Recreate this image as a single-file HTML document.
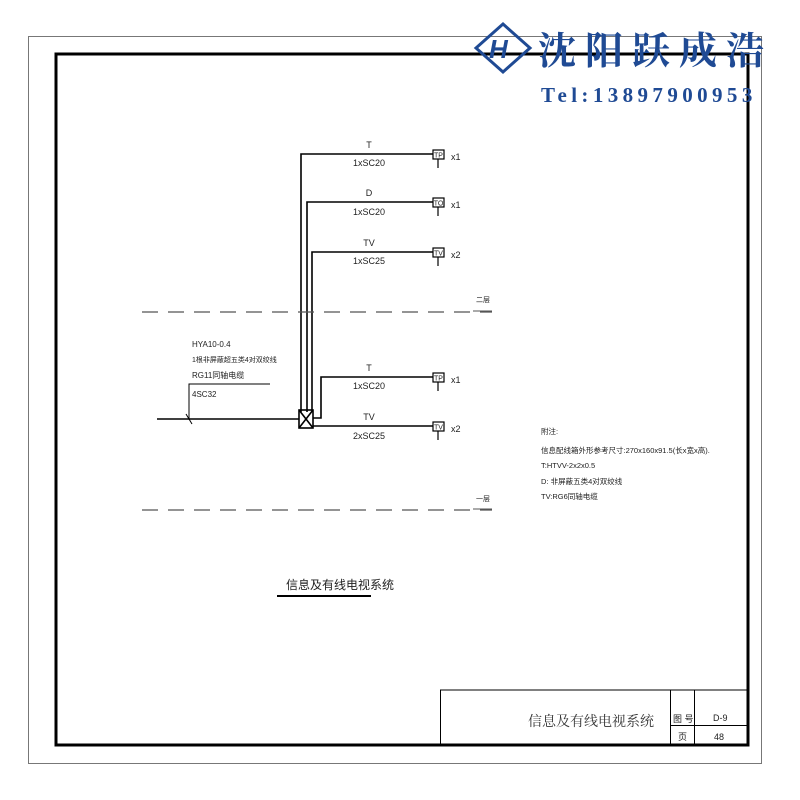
<!DOCTYPE html>
<html><head><meta charset="utf-8"><style>
html,body{margin:0;padding:0;background:#fff;width:800px;height:800px;overflow:hidden}
svg text{font-family:"Liberation Sans","Noto Sans CJK SC",sans-serif}
</style></head><body>
<svg width="800" height="800" viewBox="0 0 800 800" xmlns="http://www.w3.org/2000/svg">
<rect x="28.5" y="36.5" width="733" height="727" fill="none" stroke="#777" stroke-width="1"/>
<rect x="56" y="54" width="692" height="691" fill="none" stroke="#000" stroke-width="3"/>

<g stroke="#000" stroke-width="1.6" fill="none">
<polyline points="301,412 301,154 433,154"/>
<polyline points="307,412 307,202 433,202"/>
<polyline points="312,412 312,252 433,252"/>
<polyline points="313,418 321,418 321,377 433,377"/>
<polyline points="313,426 433,426"/>
<line x1="157" y1="419" x2="299" y2="419"/>
<polyline points="189,419 189,384 270,384" stroke-width="1"/>
<line x1="186" y1="414" x2="192" y2="424" stroke-width="1"/>
<rect x="299" y="410" width="14" height="18"/>
<line x1="299" y1="410" x2="313" y2="428"/>
<line x1="313" y1="410" x2="299" y2="428"/>
</g>
<g stroke="#555" stroke-width="1.3" stroke-dasharray="16,10">
<line x1="142" y1="312" x2="492" y2="312"/>
<line x1="142" y1="510" x2="492" y2="510"/>
</g>
<line x1="473" y1="311" x2="492" y2="311" stroke="#555" stroke-width="1"/>
<line x1="473" y1="509" x2="492" y2="509" stroke="#555" stroke-width="1"/>

<g stroke="#000" stroke-width="1.2" fill="#fff">
<rect x="433" y="150" width="11" height="9"/><line x1="438" y1="159" x2="438" y2="168"/>
<rect x="433" y="198" width="11" height="9"/><line x1="438" y1="207" x2="438" y2="216"/>
<rect x="433" y="248" width="11" height="9"/><line x1="438" y1="257" x2="438" y2="266"/>
<rect x="433" y="373" width="11" height="9"/><line x1="438" y1="382" x2="438" y2="391"/>
<rect x="433" y="422" width="11" height="9"/><line x1="438" y1="431" x2="438" y2="440"/>
</g>
<g font-size="7" text-anchor="middle" fill="#222">
<text x="438.5" y="157.5">TP</text><text x="438.5" y="205.5">TO</text><text x="438.5" y="255.5">TV</text>
<text x="438.5" y="380.5">TP</text><text x="438.5" y="429.5">TV</text>
</g>
<g font-size="9" fill="#222">
<text x="451" y="160">x1</text><text x="451" y="208">x1</text><text x="451" y="258">x2</text>
<text x="451" y="383">x1</text><text x="451" y="432">x2</text>
</g>
<g font-size="9" text-anchor="middle" fill="#222">
<text x="369" y="148">T</text><text x="369" y="166">1xSC20</text>
<text x="369" y="196">D</text><text x="369" y="215">1xSC20</text>
<text x="369" y="246">TV</text><text x="369" y="264">1xSC25</text>
<text x="369" y="371">T</text><text x="369" y="389">1xSC20</text>
<text x="369" y="420">TV</text><text x="369" y="439">2xSC25</text>
</g>
<g font-size="8" fill="#222">
<text x="192" y="347">HYA10-0.4</text>
<text x="192" y="362" font-size="7">1根非屏蔽超五类4对双绞线</text>
<text x="192" y="378">RG11同轴电缆</text>
<text x="192" y="397">4SC32</text>
<text x="476" y="302" font-size="7">二层</text>
<text x="476" y="501" font-size="7">一层</text>
</g>
<g font-size="7.5" fill="#222">
<text x="541" y="434">附注:</text>
<text x="541" y="453">信息配线箱外形参考尺寸:270x160x91.5(长x宽x高).</text>
<text x="541" y="468">T:HTVV-2x2x0.5</text>
<text x="541" y="484">D: 非屏蔽五类4对双绞线</text>
<text x="541" y="499">TV:RG6同轴电缆</text>
</g>
<text x="286" y="589" font-size="12" fill="#222">信息及有线电视系统</text>
<line x1="277" y1="596" x2="371" y2="596" stroke="#000" stroke-width="2"/>

<g stroke="#000" stroke-width="1" fill="none">
<line x1="440" y1="690" x2="748" y2="690"/>
<line x1="440.5" y1="690" x2="440.5" y2="745"/>
<line x1="670.5" y1="690" x2="670.5" y2="745"/>
<line x1="694.5" y1="690" x2="694.5" y2="745"/>
<line x1="670" y1="725.5" x2="748" y2="725.5"/>
</g>
<text x="528" y="726" font-size="14" fill="#333" style="font-family:'Noto Serif CJK SC',serif">信息及有线电视系统</text>
<g font-size="9" fill="#222">
<text x="673" y="722">图 号</text><text x="678" y="740">页</text>
<text x="713" y="721">D-9</text><text x="714" y="740">48</text>
</g>

<g>
<path d="M503 24 L530 48 L503 72 L476 48 Z" fill="none" stroke="#1f4a94" stroke-width="3"/>
<text x="489" y="58" font-size="26" font-weight="bold" font-style="italic" style="fill:#1f4a94">H</text>
<text x="538" y="64" font-size="38" font-weight="bold" letter-spacing="9" style="fill:#1f4a94;font-family:'Noto Serif CJK SC',serif">沈阳跃成浩</text>
<text x="541" y="102" font-size="21" font-weight="bold" letter-spacing="4.4" style="fill:#1f4a94;font-family:'Liberation Serif',serif">Tel:13897900953</text>
</g>
</svg>
</body></html>
